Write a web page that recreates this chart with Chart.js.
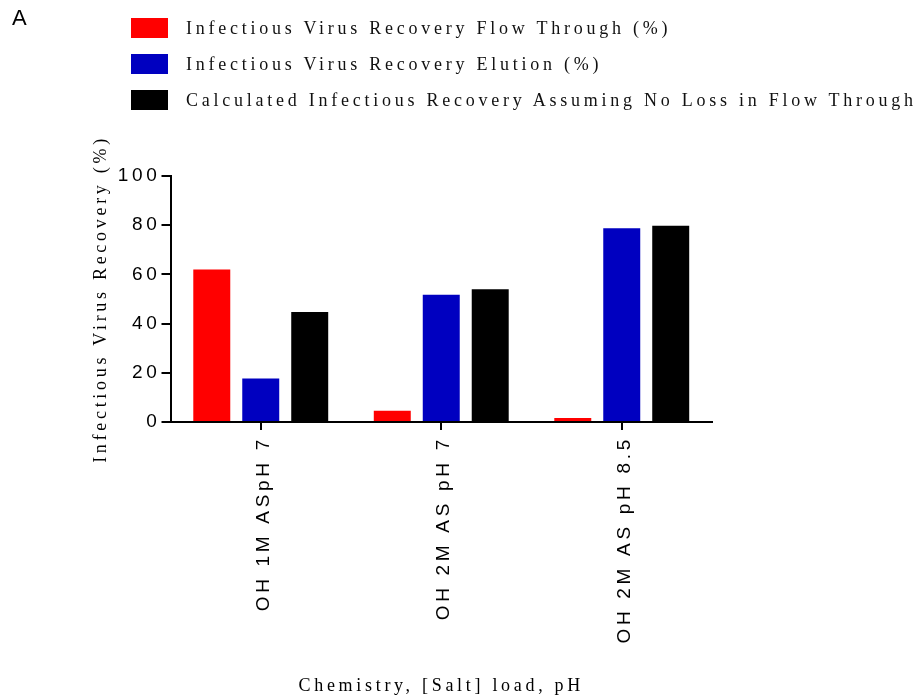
<!DOCTYPE html>
<html>
<head>
<meta charset="utf-8">
<script src="https://cdn.jsdelivr.net/npm/chart.js@4"></script>
<style>
  body { margin: 0; background: #fff; }
  #wrap { position: relative; width: 915px; height: 697px; }
  #panel { position: absolute; left: 12px; top: 5px; font: 22px "Liberation Sans", Arial, sans-serif; color: #000; }
  #legend { position: absolute; left: 131px; top: 18px; margin: 0; padding: 0; list-style: none;
            font: 18px "Liberation Serif", "Times New Roman", serif; letter-spacing: 3.75px; color: #111; }
  #legend li { display: flex; align-items: center; height: 20px; margin-bottom: 16px; white-space: nowrap; }
  #legend .box { display: inline-block; width: 37px; height: 20px; margin-right: 18px; }
</style>
</head>
<body>
<div id="wrap">
  <canvas id="chart" width="915" height="697"></canvas>
  <div id="panel">A</div>
  <ul id="legend"></ul>
</div>
<script>
'use strict';

const categories = ['OH 1M ASpH 7', 'OH 2M AS pH 7', 'OH 2M AS pH 8.5'];
const flowThrough = [62, 4.6, 1.6];
const elution = [17.7, 51.7, 78.8];
const calculated = [44.7, 54, 79.8];
const yTicks = [0, 20, 40, 60, 80, 100];

// legend is built as a list next to the canvas
const htmlLegend = {
  id: 'htmlLegend',
  afterUpdate(chart) {
    const ul = document.getElementById('legend');
    ul.innerHTML = '';
    const items = chart.options.plugins.legend.labels.generateLabels(chart);
    items.forEach(item => {
      const li = document.createElement('li');
      const box = document.createElement('span');
      box.className = 'box';
      box.style.background = item.fillStyle;
      const text = document.createElement('span');
      text.textContent = item.text;
      li.append(box, text);
      ul.appendChild(li);
    });
  }
};

// wide letter spacing on all axis text
const spacedText = {
  id: 'spacedText',
  beforeUpdate(chart) { chart.ctx.letterSpacing = '3.7px'; },
  beforeDraw(chart) { chart.ctx.letterSpacing = '3.7px'; }
};

const tickFont = { family: 'Liberation Sans', size: 19 };
const titleFont = { family: 'Liberation Serif', size: 18 };

function renderChart() {
  const ctx = document.getElementById('chart');

  new Chart(ctx, {
    type: 'bar',
    data: {
      labels: categories,
      datasets: [{
        label: 'Infectious Virus Recovery Flow Through (%)',
        data: flowThrough,
        backgroundColor: '#FF0000'
      }, {
        label: 'Infectious Virus Recovery Elution (%)',
        data: elution,
        backgroundColor: '#0000C0'
      }, {
        label: 'Calculated Infectious Recovery Assuming No Loss in Flow Through',
        data: calculated,
        backgroundColor: '#000000'
      }]
    },
    options: {
      responsive: false,
      animation: false,
      categoryPercentage: 0.814,
      barPercentage: 0.755,
      layout: { padding: { top: 176, left: 90, right: 203, bottom: 0 } },
      plugins: {
        legend: { display: false },
        tooltip: { enabled: false }
      },
      scales: {
        x: {
          grid: { drawOnChartArea: false, offset: false, color: '#000', lineWidth: 2, tickLength: 8 },
          border: { color: '#000', width: 2 },
          ticks: { minRotation: 90, maxRotation: 90, autoSkip: false, padding: 6, labelOffset: 3, color: '#000', font: tickFont },
          title: { display: true, text: 'Chemistry, [Salt] load, pH', color: '#000', font: titleFont, padding: 0 },
          afterFit: s => { s.height = 275; }
        },
        y: {
          min: 0,
          max: 100,
          afterBuildTicks: s => { s.ticks = yTicks.map(v => ({ value: v })); },
          grid: { drawOnChartArea: false, color: '#000', lineWidth: 2, tickLength: 9 },
          border: { color: '#000', width: 2 },
          ticks: { padding: 1, color: '#000', font: tickFont },
          title: { display: true, text: 'Infectious Virus Recovery (%)', color: '#000', font: titleFont, padding: 0 },
          afterFit: s => { s.width = 80.5; }
        }
      }
    },
    plugins: [htmlLegend, spacedText]
  });
}

renderChart();
</script>
</body>
</html>
